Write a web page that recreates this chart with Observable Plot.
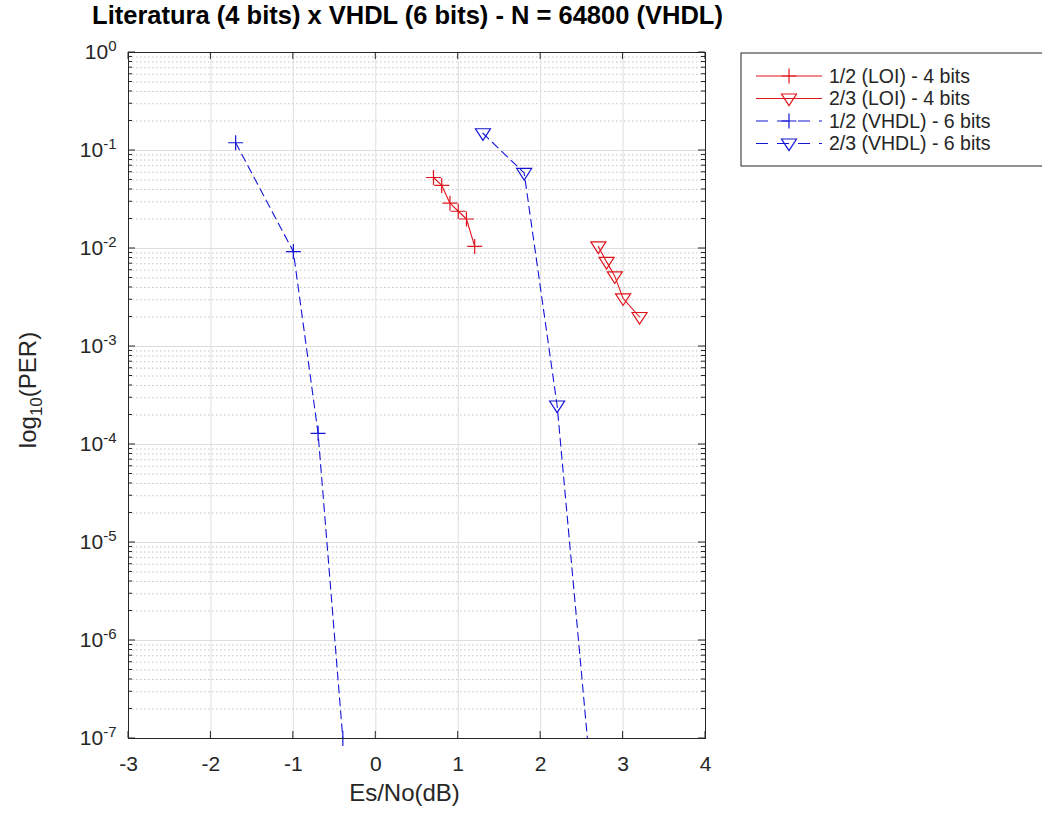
<!DOCTYPE html>
<html><head><meta charset="utf-8">
<script src="https://cdn.jsdelivr.net/npm/d3@7"></script>
<script src="https://cdn.jsdelivr.net/npm/@observablehq/plot@0.6"></script>
<style>body{margin:0;background:#fff;} #chart{width:1042px;height:823px;}</style>
</head><body><div id="chart"></div>
<script>
// ---- data ----
const titleText = "Literatura (4 bits) x VHDL (6 bits) - N = 64800 (VHDL)";
const seriesNames = ["1/2 (LOI) - 4 bits", "2/3 (LOI) - 4 bits", "1/2 (VHDL) - 6 bits", "2/3 (VHDL) - 6 bits"];
const loi12X = [0.7, 0.8, 0.9, 1.0, 1.1, 1.2];
const loi12Y = [0.053, 0.044, 0.029, 0.024, 0.020, 0.0105];
const loi23X = [2.7, 2.8, 2.9, 3.0, 3.2];
const loi23Y = [0.0105, 0.0073, 0.0052, 0.0031, 0.002];
const vhdl12X = [-1.7, -1.0, -0.7, -0.4];
const vhdl12Y = [0.12, 0.0093, 0.00013, 1e-7];
const vhdl23X = [1.3, 1.8, 2.2, 2.6];
const vhdl23Y = [0.15, 0.059, 0.00025, 5e-8];
const xTicks = [-3, -2, -1, 0, 1, 2, 3, 4];
const yDecades = [1, 1e-1, 1e-2, 1e-3, 1e-4, 1e-5, 1e-6, 1e-7];

const RED = "#e0141c", BLUE = "#1414d6";
const rows = (xs, ys) => xs.map((x, i) => ({x, y: ys[i]}));
const minorTicks = [];
for (let k = 1; k <= 7; k++) for (let m = 2; m <= 9; m++) minorTicks.push(m * Math.pow(10, -k));

const plusSym = {draw(ctx, size) {const r = Math.sqrt(size / Math.PI); ctx.moveTo(-r, 0); ctx.lineTo(r, 0); ctx.moveTo(0, -r); ctx.lineTo(0, r);}};
const triDown = {draw(ctx, size) {const r = Math.sqrt(size / Math.PI); ctx.moveTo(-r, -r * 0.6); ctx.lineTo(r, -r * 0.6); ctx.lineTo(0, r * 0.95); ctx.closePath();}};

const series = [
  {name: seriesNames[0], data: rows(loi12X, loi12Y), color: RED, dash: null, sym: plusSym},
  {name: seriesNames[1], data: rows(loi23X, loi23Y), color: RED, dash: null, sym: triDown},
  {name: seriesNames[2], data: rows(vhdl12X, vhdl12Y), color: BLUE, dash: "8,5", sym: plusSym},
  {name: seriesNames[3], data: rows(vhdl23X, vhdl23Y), color: BLUE, dash: "8,5", sym: triDown}
];

const W = 1042, H = 823, ML = 128, MR = W - 705, MT = 52, MB = H - 738;
const FONT = "'Liberation Sans', Arial, Helvetica, sans-serif";

const plot = Plot.plot({
  width: W, height: H,
  marginLeft: ML, marginRight: MR, marginTop: MT, marginBottom: MB,
  style: {fontFamily: FONT, fontSize: "21px", color: "#262626", background: "#fff", overflow: "visible"},
  x: {domain: [-3, 4], label: null},
  y: {type: "log", domain: [1e-7, 1], label: null},
  marks: [
    Plot.gridY(minorTicks, {stroke: "#c4c4c4", strokeOpacity: 1, strokeDasharray: "1.5,2.5"}),
    Plot.gridX(xTicks, {stroke: "#dedede", strokeOpacity: 1}),
    Plot.gridY(yDecades, {stroke: "#dedede", strokeOpacity: 1}),
    Plot.axisX(xTicks, {tickSize: 0, tickPadding: 18, fontSize: 21, tickFormat: d => String(d)}),
    Plot.axisY(yDecades, {tickSize: 0, tickPadding: 12, fontSize: 21, tickFormat: d => String(Math.round(Math.log10(d)))}),
    ...series.map(s => Plot.line(s.data, {x: "x", y: "y", stroke: s.color, strokeWidth: 1.1, strokeDasharray: s.dash, clip: true})),
    ...series.map((s, i) => Plot.dot(s.data, {x: "x", y: "y", symbol: s.sym, r: 7.5, stroke: s.color, strokeWidth: 1.2, fill: "none", clip: i === 3})),
    Plot.frame({stroke: "#262626", strokeWidth: 1})
  ]
});

document.getElementById("chart").appendChild(plot);
const svg = d3.select(plot);
const xs = plot.scale("x"), ys = plot.scale("y");
const X0 = xs.apply(-3), X1 = xs.apply(4), Y0 = ys.apply(1e-7), Y1 = ys.apply(1);

// superscript y tick labels
svg.selectAll('g[aria-label="y-axis tick label"] text').each(function () {
  const e = this.textContent;
  const t = d3.select(this);
  t.text("10");
  t.append("tspan").attr("dy", "-0.55em").attr("font-size", "15px").text(e);
});

// inward ticks (box on)
const tk = svg.append("g").attr("stroke", "#262626").attr("stroke-width", 1);
xTicks.forEach(v => {
  const X = xs.apply(v);
  tk.append("line").attr("x1", X).attr("x2", X).attr("y1", Y0).attr("y2", Y0 - 7);
  tk.append("line").attr("x1", X).attr("x2", X).attr("y1", Y1).attr("y2", Y1 + 7);
});
yDecades.forEach(v => {
  const Y = ys.apply(v);
  tk.append("line").attr("x1", X0).attr("x2", X0 + 7).attr("y1", Y).attr("y2", Y);
  tk.append("line").attr("x1", X1).attr("x2", X1 - 7).attr("y1", Y).attr("y2", Y);
});
minorTicks.forEach(v => {
  const Y = ys.apply(v);
  tk.append("line").attr("x1", X0).attr("x2", X0 + 4).attr("y1", Y).attr("y2", Y);
  tk.append("line").attr("x1", X1).attr("x2", X1 - 4).attr("y1", Y).attr("y2", Y);
});

// title and axis labels
const cx = (X0 + X1) / 2;
svg.append("text").attr("x", cx - 9).attr("y", 24).attr("text-anchor", "middle")
  .attr("font-family", FONT).attr("font-size", 25.5).attr("font-weight", "bold").attr("fill", "#000").text(titleText);
svg.append("text").attr("x", cx - 12).attr("y", 801).attr("text-anchor", "middle")
  .attr("font-family", FONT).attr("font-size", 24).attr("fill", "#262626").text("Es/No(dB)");
const yl = svg.append("text").attr("transform", `translate(36,390) rotate(-90)`).attr("text-anchor", "middle")
  .attr("font-family", FONT).attr("font-size", 24).attr("fill", "#262626");
yl.append("tspan").text("log");
yl.append("tspan").attr("font-size", 17).attr("dy", 6).text("10");
yl.append("tspan").attr("dy", -6).text("(PER)");

// legend
const LX = 741, LY = 53, LH = 113, ROW = 22.5;
const lg = svg.append("g").attr("font-family", FONT).attr("font-size", 19.5).attr("fill", "#262626").attr("text-anchor", "start");
lg.append("rect").attr("x", LX).attr("y", LY).attr("width", 330).attr("height", LH).attr("fill", "#fff").attr("stroke", "#262626");
series.forEach((s, i) => {
  const y = LY + 23 + i * ROW;
  lg.append("line").attr("x1", 756).attr("x2", 822).attr("y1", y).attr("y2", y)
    .attr("stroke", s.color).attr("stroke-width", 1.1).attr("stroke-dasharray", s.dash ? "12,9" : null);
  lg.append("path").attr("d", d3.symbol(s.sym, Math.PI * 7.5 * 7.5)()).attr("transform", `translate(789,${y})`)
    .attr("fill", "none").attr("stroke", s.color).attr("stroke-width", 1.2);
  lg.append("text").attr("x", 829).attr("y", y).attr("dy", "0.35em").attr("text-anchor", "start").text(s.name);
});
</script>
</body></html>
